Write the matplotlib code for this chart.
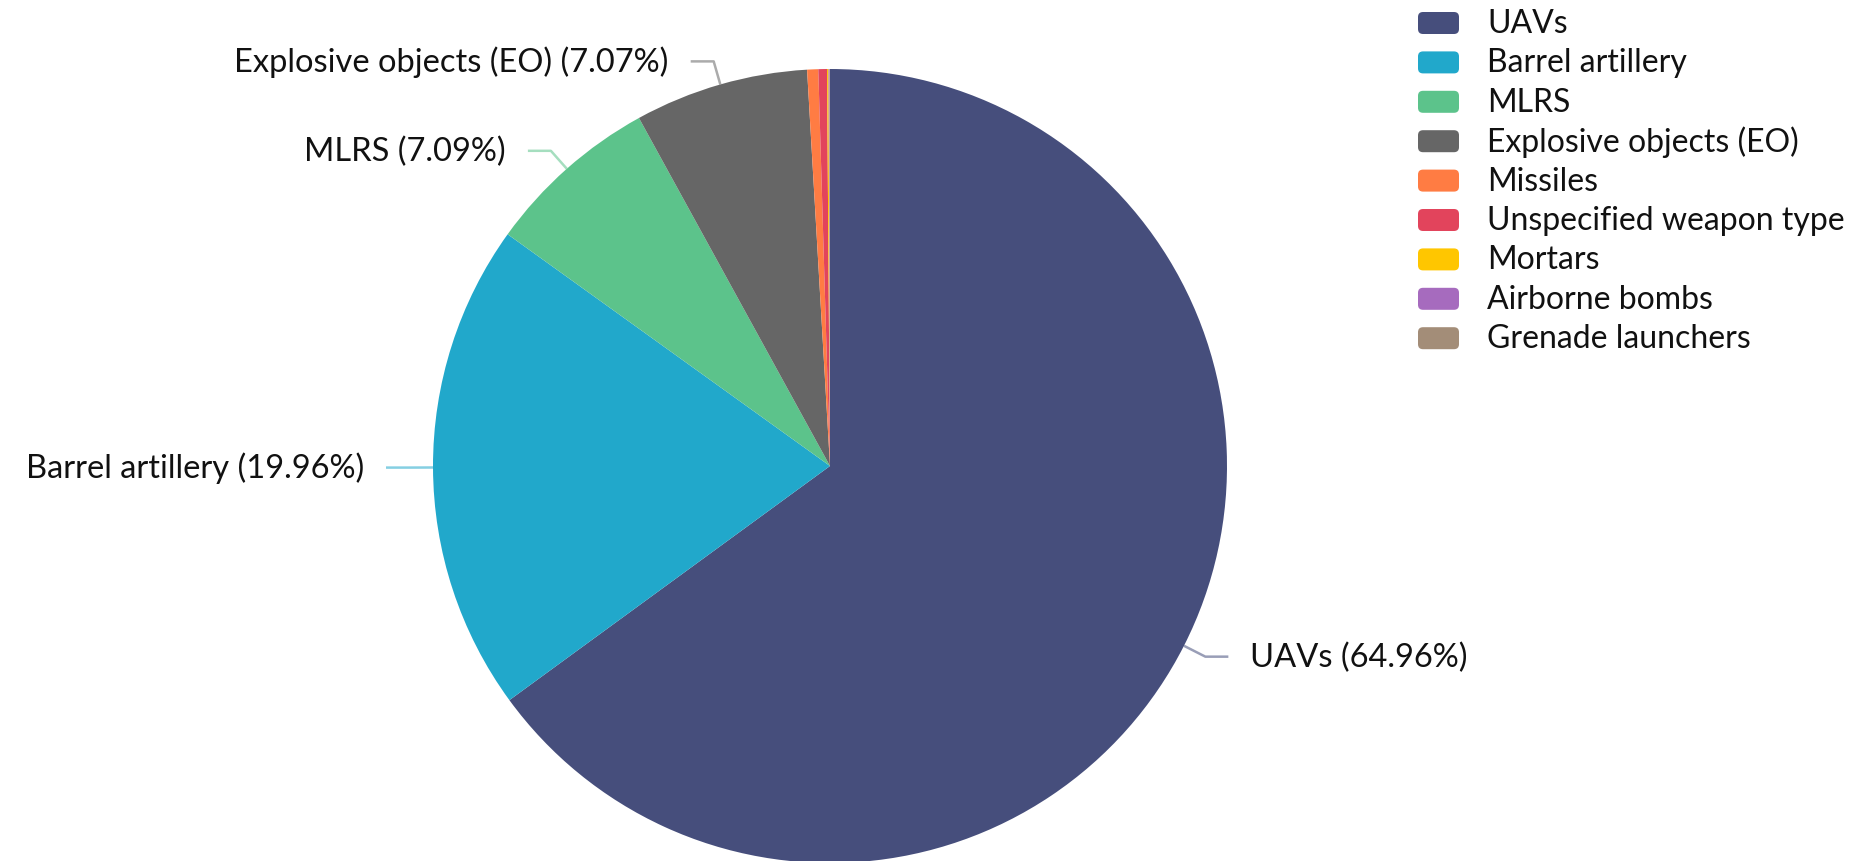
import numpy as np
import matplotlib
matplotlib.use("Agg")
import matplotlib.pyplot as plt
from matplotlib.patches import FancyBboxPatch

# weapon types and share of incidents (%)
labels = ["UAVs", "Barrel artillery", "MLRS", "Explosive objects (EO)", "Missiles",
          "Unspecified weapon type", "Mortars", "Airborne bombs", "Grenade launchers"]
shares = [64.96, 19.96, 7.09, 7.07, 0.45, 0.35, 0.06, 0.04, 0.02]
colors = ["#464e7c", "#21a8cb", "#5cc38b", "#666666", "#ff7c43",
          "#e2445c", "#ffc600", "#a66bbe", "#a38d78"]

plt.rcParams['font.family'] = ['Lato', 'DejaVu Sans']

W, H = 1852, 862
fig = plt.figure(figsize=(W / 100, H / 100), dpi=100)
ax = fig.add_axes([0, 0, 1, 1])

cx, cy, r = 830, H - 467, 397
wedges, _ = ax.pie(shares, colors=colors, startangle=90, counterclock=False,
                   center=(cx, cy), radius=r, normalize=True)
ax.set_xlim(0, W)
ax.set_ylim(0, H)
ax.set_aspect('auto')
ax.axis('off')

fs = 23.5
# outside labels with a two-part leader line, only for the big slices
for w, lab, val, col in zip(wedges, labels, shares, colors):
    if val < 1:
        continue
    ang = np.deg2rad((w.theta1 + w.theta2) / 2)
    x0, y0 = cx + r * np.cos(ang), cy + r * np.sin(ang)
    x1, y1 = cx + (r + 24) * np.cos(ang), cy + (r + 24) * np.sin(ang)
    side = 1 if np.cos(ang) >= 0 else -1
    x2 = x1 + side * 23
    ax.plot([x0, x1, x2], [y0, y1, y1], color=col, alpha=0.55, lw=1.8,
            solid_capstyle='butt', clip_on=False)
    ax.text(x2 + side * 22, y1, "%s (%.2f%%)" % (lab, val), fontsize=fs,
            ha='left' if side > 0 else 'right', va='center', color='#111111')

# legend on the right
for i, (lab, col) in enumerate(zip(labels, colors)):
    yc = H - 24 - i * 39.4
    ax.add_patch(FancyBboxPatch((1420, yc - 9), 37, 18,
                                boxstyle="round,pad=2,rounding_size=5",
                                fc=col, ec='none', clip_on=False))
    ax.text(1487, yc, lab, fontsize=23, va='center', ha='left', color='#111111')

fig.savefig("out.png", dpi=100)
